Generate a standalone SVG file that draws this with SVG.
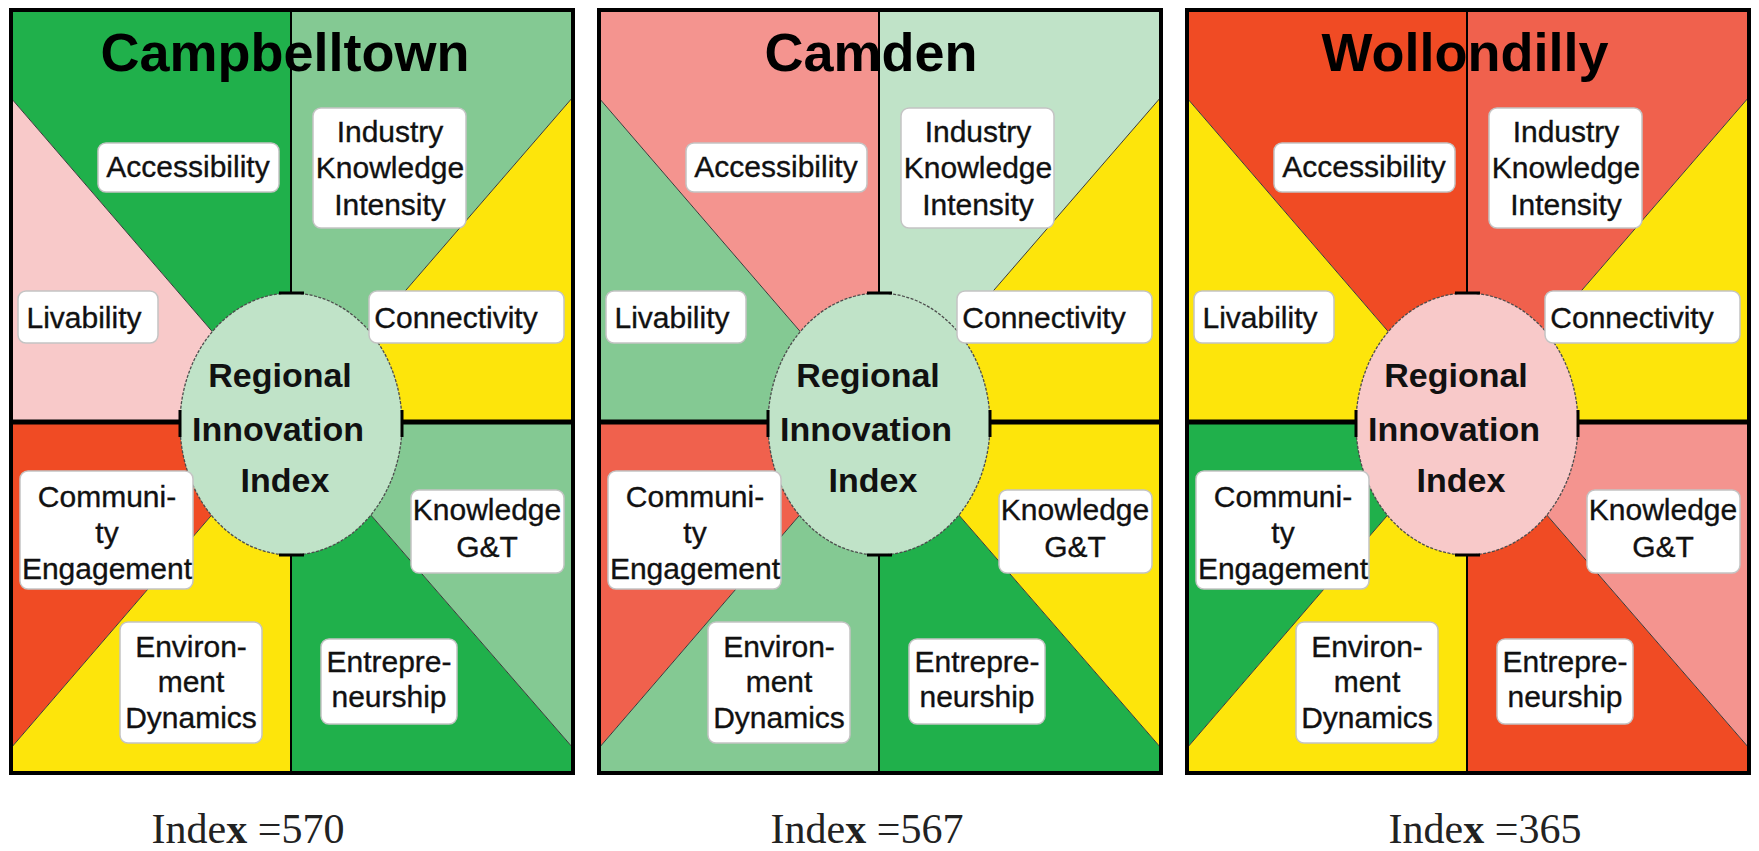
<svg xmlns="http://www.w3.org/2000/svg" width="1759" height="851" viewBox="0 0 1759 851">
<style>
.lbl rect{fill:#fff;stroke:#c4c4c4;stroke-width:1.5}
.lbl text{font-family:"Liberation Sans",Arial,sans-serif;font-size:30px;fill:#111;stroke:#111;stroke-width:0.35;text-anchor:middle}
.title{font-family:"Liberation Sans",Arial,sans-serif;font-size:54px;font-weight:bold;text-anchor:middle;fill:#000}
.core text{font-family:"Liberation Sans",Arial,sans-serif;font-size:34px;font-weight:bold;text-anchor:middle;fill:#111}
.core ellipse{stroke:#4d4d4d;stroke-width:1.3;stroke-dasharray:3 1.5}
.diag{stroke:#3a3a3a;stroke-width:1;fill:none}
.frame{fill:none;stroke:#000;stroke-width:4}
.axis{stroke:#000;stroke-width:2;fill:none}
.div{stroke:#000;stroke-width:5}
.tick{stroke:#000;stroke-width:3}
.idx{font-family:"Liberation Serif","Times New Roman",serif;font-size:42px;fill:#222;text-anchor:middle}
.g1{fill:#20b04b}.g2{fill:#84c993}.g3{fill:#c0e3c8}.y{fill:#fde50b}.r1{fill:#f04b24}.r2{fill:#f0614d}.r3{fill:#f4948f}.p{fill:#f8c9c9}
</style>
<defs>
<g id="frameLines">
<line class="diag" x1="11" y1="98" x2="291" y2="423"/>
<line class="diag" x1="573" y1="97" x2="291" y2="423"/>
<line class="diag" x1="11" y1="748" x2="291" y2="423"/>
<line class="diag" x1="573" y1="748" x2="291" y2="423"/>
<line class="axis" x1="291" y1="10" x2="291" y2="293"/>
<line class="axis" x1="291" y1="555" x2="291" y2="773"/>
<line class="div" x1="11" y1="422" x2="573" y2="422"/>
<rect class="frame" x="11" y="10" width="562" height="763"/>
</g>
<g id="ticks">
<line class="tick" x1="279" y1="293" x2="304" y2="293"/>
<line class="tick" x1="279" y1="555" x2="304" y2="555"/>
<line class="tick" x1="180" y1="410" x2="180" y2="437"/>
<line class="tick" x1="402" y1="410" x2="402" y2="437"/>
</g>
</defs>

<!-- Campbelltown -->
<g id="campbelltown">
<g id="c-sectors">
<polygon class="g1" points="11,10 291,10 291,423 11,98"/>
<polygon class="p" points="11,98 291,423 11,423"/>
<polygon class="g2" points="291,10 573,10 573,97 291,423"/>
<polygon class="y" points="573,97 573,423 291,423"/>
<polygon class="r1" points="11,423 291,423 11,748"/>
<polygon class="y" points="11,748 291,423 291,773 11,773"/>
<polygon class="g1" points="291,423 573,748 573,773 291,773"/>
<polygon class="g2" points="291,423 573,423 573,748"/>
</g>
<use href="#frameLines"/>
<text class="title" x="285" y="71">Campbelltown</text>
<g id="c-core" class="core">
<ellipse cx="291" cy="424" rx="111" ry="131" fill="#c0e3c8"/>
<use href="#ticks"/>
<text><tspan x="280" y="387">Regional</tspan><tspan x="278" y="441">Innovation</tspan><tspan x="285" y="492">Index</tspan></text>
</g>
<g id="c-accessibility" class="lbl"><rect x="98" y="143" width="181" height="49" rx="8"/><text x="188" y="177">Accessibility</text></g>
<g id="c-industry" class="lbl"><rect x="313" y="108" width="153" height="120" rx="8"/><text><tspan x="390" y="142">Industry</tspan><tspan x="390" y="178">Knowledge</tspan><tspan x="390" y="215">Intensity</tspan></text></g>
<g id="c-livability" class="lbl"><rect x="18" y="291" width="140" height="52" rx="8"/><text x="84" y="328">Livability</text></g>
<g id="c-connectivity" class="lbl"><rect x="369" y="291" width="195" height="52" rx="8"/><text x="456" y="328">Connectivity</text></g>
<g id="c-community" class="lbl"><rect x="20" y="471" width="173" height="118" rx="8"/><text><tspan x="107" y="507">Communi-</tspan><tspan x="107" y="543">ty</tspan><tspan x="107" y="579">Engagement</tspan></text></g>
<g id="c-environment" class="lbl"><rect x="120" y="622" width="142" height="121" rx="8"/><text><tspan x="191" y="657">Environ-</tspan><tspan x="191" y="692">ment</tspan><tspan x="191" y="728">Dynamics</tspan></text></g>
<g id="c-entrepreneurship" class="lbl"><rect x="321" y="639" width="136" height="85" rx="8"/><text><tspan x="389" y="672">Entrepre-</tspan><tspan x="389" y="707">neurship</tspan></text></g>
<g id="c-knowledge" class="lbl"><rect x="411" y="490" width="153" height="83" rx="8"/><text><tspan x="487" y="520">Knowledge</tspan><tspan x="487" y="557">G&amp;T</tspan></text></g>
<text class="idx" x="248" y="843">Inde<tspan font-weight="bold">x</tspan> =570</text>
</g>

<!-- Camden -->
<g id="camden" transform="translate(588,0)">
<g id="d-sectors">
<polygon class="r3" points="11,10 291,10 291,423 11,98"/>
<polygon class="g2" points="11,98 291,423 11,423"/>
<polygon class="g3" points="291,10 573,10 573,97 291,423"/>
<polygon class="y" points="573,97 573,423 291,423"/>
<polygon class="r2" points="11,423 291,423 11,748"/>
<polygon class="g2" points="11,748 291,423 291,773 11,773"/>
<polygon class="g1" points="291,423 573,748 573,773 291,773"/>
<polygon class="y" points="291,423 573,423 573,748"/>
</g>
<use href="#frameLines"/>
<text class="title" x="283" y="71">Camden</text>
<g id="d-core" class="core">
<ellipse cx="291" cy="424" rx="111" ry="131" fill="#c0e3c8"/>
<use href="#ticks"/>
<text><tspan x="280" y="387">Regional</tspan><tspan x="278" y="441">Innovation</tspan><tspan x="285" y="492">Index</tspan></text>
</g>
<g id="d-accessibility" class="lbl"><rect x="98" y="143" width="181" height="49" rx="8"/><text x="188" y="177">Accessibility</text></g>
<g id="d-industry" class="lbl"><rect x="313" y="108" width="153" height="120" rx="8"/><text><tspan x="390" y="142">Industry</tspan><tspan x="390" y="178">Knowledge</tspan><tspan x="390" y="215">Intensity</tspan></text></g>
<g id="d-livability" class="lbl"><rect x="18" y="291" width="140" height="52" rx="8"/><text x="84" y="328">Livability</text></g>
<g id="d-connectivity" class="lbl"><rect x="369" y="291" width="195" height="52" rx="8"/><text x="456" y="328">Connectivity</text></g>
<g id="d-community" class="lbl"><rect x="20" y="471" width="173" height="118" rx="8"/><text><tspan x="107" y="507">Communi-</tspan><tspan x="107" y="543">ty</tspan><tspan x="107" y="579">Engagement</tspan></text></g>
<g id="d-environment" class="lbl"><rect x="120" y="622" width="142" height="121" rx="8"/><text><tspan x="191" y="657">Environ-</tspan><tspan x="191" y="692">ment</tspan><tspan x="191" y="728">Dynamics</tspan></text></g>
<g id="d-entrepreneurship" class="lbl"><rect x="321" y="639" width="136" height="85" rx="8"/><text><tspan x="389" y="672">Entrepre-</tspan><tspan x="389" y="707">neurship</tspan></text></g>
<g id="d-knowledge" class="lbl"><rect x="411" y="490" width="153" height="83" rx="8"/><text><tspan x="487" y="520">Knowledge</tspan><tspan x="487" y="557">G&amp;T</tspan></text></g>
<text class="idx" x="279" y="843">Inde<tspan font-weight="bold">x</tspan> =567</text>
</g>

<!-- Wollondilly -->
<g id="wollondilly" transform="translate(1176,0)">
<g id="w-sectors">
<polygon class="r1" points="11,10 291,10 291,423 11,98"/>
<polygon class="y" points="11,98 291,423 11,423"/>
<polygon class="r2" points="291,10 573,10 573,97 291,423"/>
<polygon class="y" points="573,97 573,423 291,423"/>
<polygon class="g1" points="11,423 291,423 11,748"/>
<polygon class="y" points="11,748 291,423 291,773 11,773"/>
<polygon class="r1" points="291,423 573,748 573,773 291,773"/>
<polygon class="r3" points="291,423 573,423 573,748"/>
</g>
<use href="#frameLines"/>
<text class="title" x="289" y="71">Wollondilly</text>
<g id="w-core" class="core">
<ellipse cx="291" cy="424" rx="111" ry="131" fill="#f8c9c9"/>
<use href="#ticks"/>
<text><tspan x="280" y="387">Regional</tspan><tspan x="278" y="441">Innovation</tspan><tspan x="285" y="492">Index</tspan></text>
</g>
<g id="w-accessibility" class="lbl"><rect x="98" y="143" width="181" height="49" rx="8"/><text x="188" y="177">Accessibility</text></g>
<g id="w-industry" class="lbl"><rect x="313" y="108" width="153" height="120" rx="8"/><text><tspan x="390" y="142">Industry</tspan><tspan x="390" y="178">Knowledge</tspan><tspan x="390" y="215">Intensity</tspan></text></g>
<g id="w-livability" class="lbl"><rect x="18" y="291" width="140" height="52" rx="8"/><text x="84" y="328">Livability</text></g>
<g id="w-connectivity" class="lbl"><rect x="369" y="291" width="195" height="52" rx="8"/><text x="456" y="328">Connectivity</text></g>
<g id="w-community" class="lbl"><rect x="20" y="471" width="173" height="118" rx="8"/><text><tspan x="107" y="507">Communi-</tspan><tspan x="107" y="543">ty</tspan><tspan x="107" y="579">Engagement</tspan></text></g>
<g id="w-environment" class="lbl"><rect x="120" y="622" width="142" height="121" rx="8"/><text><tspan x="191" y="657">Environ-</tspan><tspan x="191" y="692">ment</tspan><tspan x="191" y="728">Dynamics</tspan></text></g>
<g id="w-entrepreneurship" class="lbl"><rect x="321" y="639" width="136" height="85" rx="8"/><text><tspan x="389" y="672">Entrepre-</tspan><tspan x="389" y="707">neurship</tspan></text></g>
<g id="w-knowledge" class="lbl"><rect x="411" y="490" width="153" height="83" rx="8"/><text><tspan x="487" y="520">Knowledge</tspan><tspan x="487" y="557">G&amp;T</tspan></text></g>
<text class="idx" x="309" y="843">Inde<tspan font-weight="bold">x</tspan> =365</text>
</g>
</svg>
